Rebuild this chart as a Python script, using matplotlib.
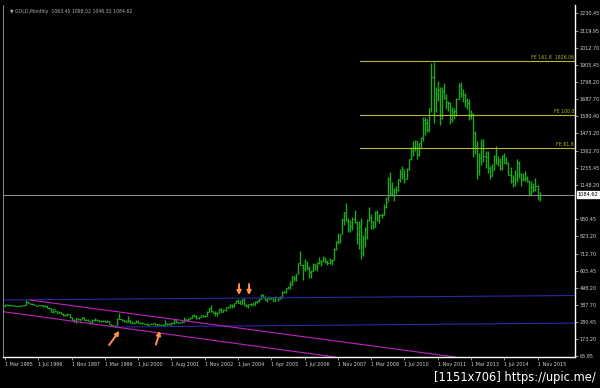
import matplotlib
matplotlib.use("Agg")
import matplotlib.pyplot as plt
import numpy as np

# monthly gold bars (high, low, close), one entry per bar on the chart, Mar 1995 .. Dec 2015
highs = [396,396,392,390,390,388,387,390,390,390,
         419,416,402,398,395,391,389,391,389,385,385,373,
         369,366,358,349,348,345,335,331,336,333,315,299,
         306,305,302,315,311,300,297,290,301,303,300,296,
         293,292,291,291,289,267,264,260,304,338,302,293,
         293,317,295,285,282,294,292,
         280,278,275,275,271,272,276,273,270,268,268,266,294,275,272,280,
         294,294,283,281,285,312,300,304,310,328,330,322,315,327,326,323,
         350,372,389,352,352,341,371,372,361,376,380,392,392,401,417,426,
         418,428,430,392,395,398,409,414,418,433,456,456,444,438,447,438,
         437,443,437,448,476,479,498,505,541,573,574,585,655,730,646,677,
         664,632,610,650,646,660,691,675,695,694,672,684,680,745,795,845,
         838,935,975,1032,934,925,945,988,917,919,935,827,883,928,1006,960,
         918,983,990,960,966,1024,1070,1195,1227,1162,1128,1141,1182,1249,1265,1240,
         1254,1308,1388,1424,1431,1424,1413,1447,1575,1577,1560,1632,1913,1920,1764,1803,
         1764,1763,1792,1718,1676,1668,1640,1630,1693,1790,1796,1754,1727,1695,1686,1617,
         1598,1488,1424,1348,1434,1434,1361,1361,1267,1280,1332,1392,1331,1315,1332,1345,
         1324,1290,1256,1208,1239,1307,1296,1223,1224,1232,1205,1175,1170,1157,1191,1143,1098]
lows = [374,388,382,383,382,380,381,381,382,384,
        387,398,393,390,388,380,380,384,378,378,370,366,
        341,340,343,336,338,334,318,318,320,308,293,283,
        276,292,287,299,291,287,287,271,272,288,290,283,
        283,283,278,278,266,257,253,251,254,297,288,281,
        280,282,275,274,270,272,275,
        270,269,268,263,263,266,267,262,255,260,256,255,263,265,264,265,
        271,276,272,272,276,281,292,288,299,307,314,301,301,311,312,314,
        317,342,346,336,320,320,337,343,341,352,368,372,370,375,398,399,
        392,392,386,375,371,383,385,387,398,410,424,435,417,410,425,423,
        414,414,416,426,432,461,464,490,488,516,537,539,581,642,543,605,
        611,560,560,600,606,603,648,636,661,651,641,645,642,670,732,772,
        779,833,890,917,850,848,860,907,773,740,681,700,753,802,918,865,
        865,883,916,904,936,953,1003,1043,1075,1074,1044,1088,1110,1165,1184,1155,
        1180,1239,1305,1330,1360,1309,1326,1381,1420,1462,1478,1478,1605,1535,1604,1676,
        1523,1563,1688,1627,1613,1527,1540,1563,1583,1690,1702,1672,1636,1626,1554,1563,
        1321,1338,1180,1208,1272,1292,1251,1221,1181,1200,1238,1277,1268,1240,1241,1281,
        1280,1206,1160,1131,1141,1167,1190,1142,1170,1168,1162,1077,1080,1098,1106,1052,1046]
closes = [391,389,385,387,384,383,384,383,387,387,
          405,401,397,392,391,382,386,387,379,379,371,369,
          345,364,349,340,345,334,326,325,332,311,296,290,
          304,297,301,310,293,296,288,273,294,292,294,288,
          287,287,280,286,268,262,255,254,299,300,292,290,
          283,293,277,274,273,288,276,
          277,273,271,264,270,269,273,266,267,263,258,263,267,270,266,273,
          293,279,275,279,282,297,296,302,308,326,318,304,312,324,317,319,
          347,368,348,340,336,339,364,346,354,375,377,388,384,398,416,402,
          396,427,388,384,394,395,391,408,415,429,452,438,422,435,428,436,
          415,436,429,433,473,470,495,500,517,569,556,582,654,643,614,633,
          623,599,604,647,632,650,665,663,679,659,650,665,673,743,789,783,
          834,923,972,916,865,885,928,912,834,884,718,814,869,927,942,916,
          883,978,927,955,955,1008,1040,1181,1096,1081,1118,1113,1180,1212,1244,1181,
          1246,1307,1357,1385,1421,1333,1410,1439,1556,1536,1500,1628,1828,1620,1722,1746,
          1566,1738,1697,1668,1664,1560,1604,1614,1691,1773,1719,1712,1675,1663,1578,1596,
          1472,1393,1234,1313,1396,1327,1323,1253,1202,1240,1326,1284,1296,1250,1327,1282,
          1287,1210,1171,1182,1183,1283,1213,1183,1183,1190,1172,1095,1135,1115,1142,1065,1085]

x_labels = ['1 Mar 1995', '1 Jul 1996', '1 Nov 1997', '1 Mar 1999', '1 Jul 2000',
            '1 Aug 2001', '1 Nov 2002', '1 Jan 2004', '1 Apr 2005', '1 Jul 2006',
            '1 Nov 2007', '1 Mar 2009', '1 Jul 2010', '1 Nov 2011', '1 Mar 2013',
            '1 Jul 2014', '1 Nov 2015']
y_ticks = [2230.45, 2119.95, 2012.70, 1905.45, 1798.20, 1687.70, 1580.40, 1473.20,
           1362.70, 1255.45, 1148.20, 930.45, 823.20, 712.70, 605.45, 498.20,
           387.70, 280.45, 173.20, 65.95]

fe_levels = [1377.6, 1587.3, 1926.06]
fe_names = ['FE 61.8', 'FE 100.0', 'FE 161.8  1926.06']
last_price = 1084.62
title_text = 'GOLD,Monthly  1063.45 1098.02 1046.32 1084.62'

n = len(closes)
idx = np.arange(n)
opens = [closes[0]] + closes[:-1]

fig = plt.figure(figsize=(6, 3.88), dpi=100, facecolor='black')
ax = fig.add_axes([3/600, 31/388, 572/600, 352/388], facecolor='black')
ax.set_xlim(-1, 274)
ax.set_ylim(60, 2281)

bar_col = '#1ea81e'
ax.vlines(idx, lows, highs, color=bar_col, lw=1.0)
ax.hlines(opens, idx - 0.5, idx, color=bar_col, lw=0.7)
ax.hlines(closes, idx, idx + 0.5, color=bar_col, lw=0.7)

# trend lines
ax.plot([-1, 274], [420, 448], color='#2a2aa0', lw=0.8)
ax.plot([53, 274], [249, 274], color='#2a2aa0', lw=0.8)
ax.plot([12, 216.3], [419.5, 60], color='#c020c0', lw=0.8)
ax.plot([-1, 158.7], [346, 60], color='#c020c0', lw=0.8)

# fibo expansion
for lev, name in zip(fe_levels, fe_names):
    ax.plot([170.7, 274], [lev, lev], color='#b8b830', lw=0.8)
    ax.text(273.5, lev + 8, name, color='#b8b830', fontsize=3.3, ha='right', va='bottom')

# current price line
ax.axhline(last_price, color='#909090', lw=0.7)
ax.text(1.005, (last_price - 60) / (2281 - 60), '%.2f' % last_price, transform=ax.transAxes,
        fontsize=3.6, color='black', va='center', ha='left',
        bbox=dict(boxstyle='square,pad=0.15', fc='white', ec='white'))

# arrows
arr = dict(arrowstyle='-|>', color='#ff9050', lw=1.4, mutation_scale=6,
           shrinkA=0, shrinkB=0)
ax.annotate('', xy=(55, 225), xytext=(50, 135), arrowprops=arr)
ax.annotate('', xy=(74.5, 225), xytext=(72.5, 138), arrowprops=arr)
ax.annotate('', xy=(112.5, 450), xytext=(112.5, 520), arrowprops=arr)
ax.annotate('', xy=(117.3, 450), xytext=(117.3, 520), arrowprops=arr)

# axes styling
ax.set_xticks(np.arange(0, 16 * len(x_labels), 16))
ax.set_xticklabels(x_labels, ha='left')
ax.yaxis.tick_right()
ax.set_yticks(y_ticks)
ax.set_yticklabels(['%.2f' % v for v in y_ticks])
ax.tick_params(colors='#d0d0d0', labelsize=3.5, length=2, width=0.5, pad=1.5)
for s in ['right', 'bottom']:
    ax.spines[s].set_color('white')
    ax.spines[s].set_linewidth(1)
ax.spines['top'].set_visible(False)
ax.spines['left'].set_color('#a0a0a0')
ax.spines['left'].set_linewidth(0.6)

fig.text(10/600, 1 - 11/388, '\u25bc ' + title_text, color='#b0b0b0', fontsize=3.3, va='center')
fig.text(0.993, 1 - 378/388, '[1151x706] https://upic.me/', color='white', fontsize=8.3,
         ha='right', va='center')

fig.savefig('out.png', dpi=100, facecolor='black')
